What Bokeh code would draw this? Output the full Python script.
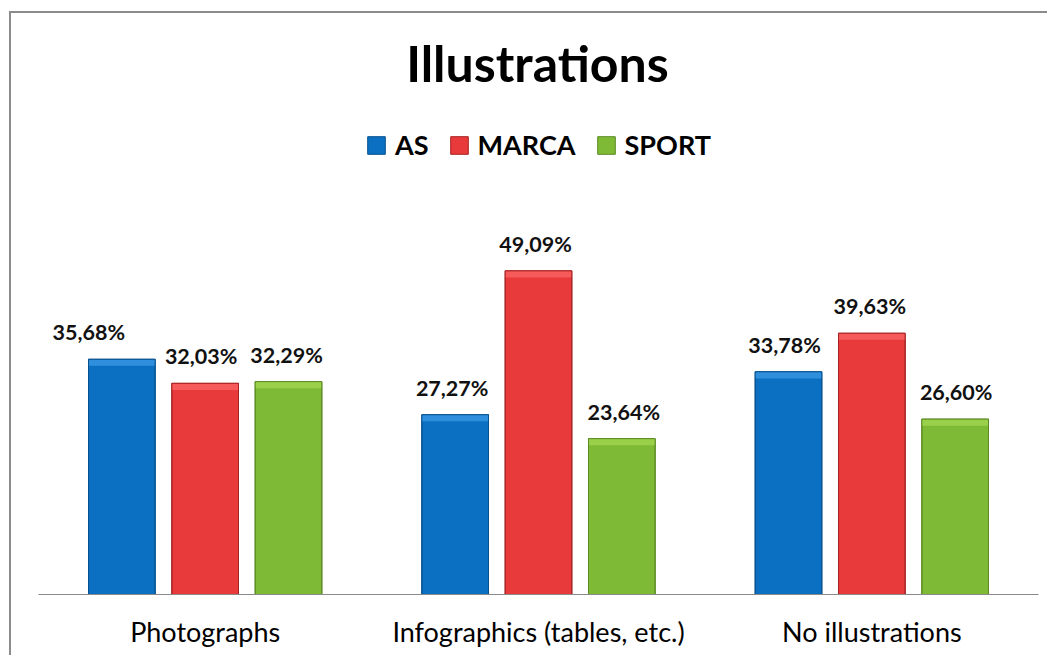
from bokeh.plotting import figure
from bokeh.models import ColumnDataSource, FactorRange, Range1d, LabelSet, Label
from bokeh.transform import dodge
from bokeh.core.properties import value
from bokeh.embed import file_html
from bokeh.resources import INLINE

categories = ["Photographs", "Infographics (tables, etc.)", "No illustrations"]
series = ["AS", "MARCA", "SPORT"]
as_vals = [35.68, 27.27, 33.78]
marca_vals = [32.03, 49.09, 39.63]
sport_vals = [32.29, 23.64, 26.60]

colors = {"AS": "#0b70c2", "MARCA": "#e83a3a", "SPORT": "#7fba36"}
tops = {"AS": "#2f8fdc", "MARCA": "#f65a5a", "SPORT": "#9ad04a"}
edges = {"AS": "#07508c", "MARCA": "#a52222", "SPORT": "#5a8a22"}
offsets = {"AS": -0.25, "MARCA": 0.0, "SPORT": 0.25}
label_dx = {"AS": [-33, -3, -4], "MARCA": [-4, -3, -2], "SPORT": [-2, 2, 1]}

FONT = "Lato"
BAND = 1.0  # highlight band height at bar tops (in % units)

p = figure(width=1038, height=644, x_range=FactorRange(factors=categories, range_padding=0),
           y_range=Range1d(0, 88.13), output_backend="svg", toolbar_location=None,
           title=None, min_border_left=27, min_border_right=11, min_border_top=0,
           min_border_bottom=63)
p.styles = {"margin-left": "9px", "margin-top": "11px",
            "border-left": "2px solid #8c8c8c", "border-top": "2px solid #8c8c8c",
            "border-right": "0px none white", "border-bottom": "0px none white",
            "overflow": "hidden"}
p.border_fill_color = "white"

vals = {"AS": as_vals, "MARCA": marca_vals, "SPORT": sport_vals}
for s in series:
    src = ColumnDataSource(dict(
        cat=categories,
        val=vals[s],
        band=[v - BAND for v in vals[s]],
        txt=[("%.2f%%" % v).replace(".", ",") for v in vals[s]],
        dx=label_dx[s],
    ))
    x = dodge("cat", offsets[s], range=p.x_range)
    p.vbar(x=x, top="val", width=0.2, source=src, fill_color=colors[s],
           line_color=edges[s], line_width=1, legend_label=s)
    p.vbar(x=x, top="val", bottom="band", width=0.2, source=src, fill_color=tops[s],
           line_color=None)
    p.vbar(x=x, top="val", width=0.2, source=src, fill_color=None,
           line_color=edges[s], line_width=1)
    labels = LabelSet(x=x, y="val", text="txt", source=src, x_offset="dx", y_offset=14,
                      text_align="center", text_baseline="bottom",
                      text_font=value(FONT), text_font_style="bold",
                      text_font_size="21.5px", text_color="#111111")
    p.add_layout(labels)

title = Label(x=499, y=532, x_units="screen", y_units="screen", text="Illustrations",
              text_align="center", text_baseline="middle", text_font=FONT,
              text_font_style="bold", text_font_size="50px", text_color="#000000")
p.add_layout(title)

leg = p.legend[0]
leg.orientation = "horizontal"
leg.location = (327, 433)
leg.background_fill_alpha = 0
leg.border_line_color = None
leg.padding = 0
leg.margin = 0
leg.spacing = 19
leg.glyph_width = 22
leg.glyph_height = 22
leg.label_height = 26
leg.label_standoff = 8
leg.label_text_font = FONT
leg.label_text_font_style = "bold"
leg.label_text_font_size = "27px"
leg.label_text_color = "#000000"

p.yaxis.visible = False
p.xgrid.grid_line_color = None
p.ygrid.grid_line_color = None
p.outline_line_color = None
p.xaxis.axis_line_color = "#8a8a8a"
p.xaxis.major_tick_line_color = None
p.xaxis.minor_tick_line_color = None
p.xaxis.major_tick_out = 0
p.xaxis.major_tick_in = 0
p.xaxis.major_label_standoff = 20
p.xaxis.major_label_text_font = FONT
p.xaxis.major_label_text_font_size = "27px"
p.xaxis.major_label_text_color = "#000000"

open("out.html", "w").write(file_html(p, INLINE))
